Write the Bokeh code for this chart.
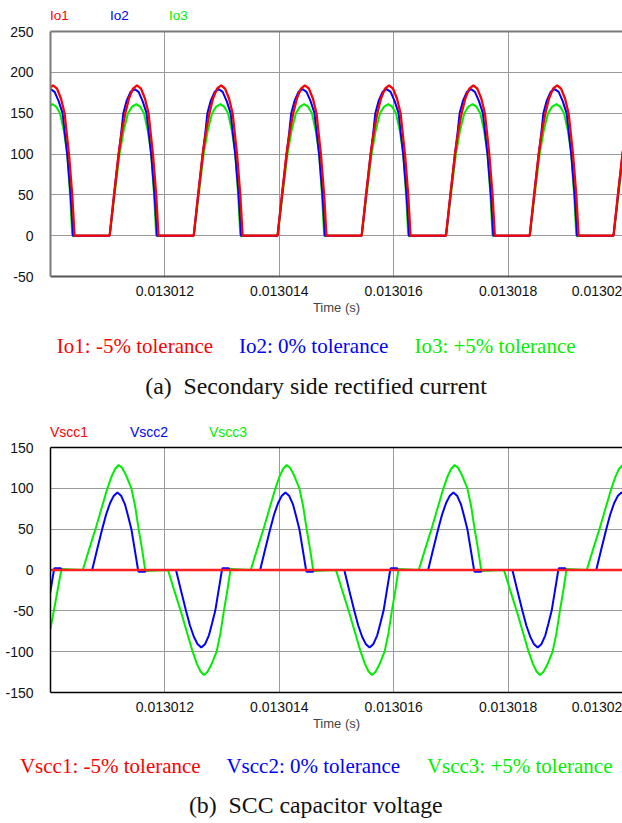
from bokeh.plotting import figure
from bokeh.models import ColumnDataSource, FixedTicker, Range1d, LinearAxis, Div
from bokeh.layouts import column
from bokeh.embed import file_html
from bokeh.resources import INLINE

# ---------------- data ----------------
T0 = 0.01301          # window start (s)
T1 = 0.01302          # window end (s)
US = 1e-6

x_tick_values = [0.013012, 0.013014, 0.013016, 0.013018]
x_tick_labels = ["0.013012", "0.013014", "0.013016", "0.013018"]
x_end_label = "0.01302"
x_end_label_at = 0.0130195545   # the last label is pulled inside the right edge, as in the original
x_axis_title = "Time (s)"

ya_ticks = [-50, 0, 50, 100, 150, 200, 250]
ya_tick_labels = ["-50", "0", "50", "100", "150", "200", "250"]
yb_ticks = [-150, -100, -50, 0, 50, 100, 150]
yb_tick_labels = ["-150", "-100", "-50", "0", "50", "100", "150"]

# (a) secondary side rectified current: pulse rise instants (us after T0) and pulse shapes
io_pulse_start_us = [-0.434, 1.034, 2.504, 3.970, 5.440, 6.914, 8.378, 9.843]
io1_dt_us = [0, .077, .157, .209, .274, .338, .408, .478, .548, .617, .680, .718, .757, .814, .854]
io1_val = [0, 50, 100, 125, 150, 168, 180, 184, 180, 168, 150, 125, 100, 50, 0]
io2_dt_us = [0, .077, .157, .201, .239, .296, .366, .436, .506, .575, .645, .685, .725, .785, .827]
io2_val = [0, 50, 100, 125, 150, 165, 176, 179.5, 176, 165, 150, 125, 100, 50, 0]
io3_dt_us = [0, .087, .174, .244, .321, .392, .466, .532, .600, .668, .727, .776, .814]
io3_val = [0, 50, 100, 128, 150, 158, 161, 158, 150, 128, 100, 50, 0]

# (b) SCC capacitor voltage
vscc1_t_us = [0.0, 10.0]
vscc1_val = [0, 0]
vscc2_bump_start_us = [-0.743, 0.728, 2.194, 3.665, 5.136, 6.602, 8.075, 9.541]
vscc2_bump_sign = [-1, 1, -1, 1, -1, 1, -1, 1]
vscc2_dt_us = [0, .087, .175, .244, .314, .375, .442, .506, .576, .628, .686, .745, .803, .812, .925, .934]
vscc2_val = [0, 25, 50, 68, 82, 90.5, 95, 91, 80, 66, 50, 25, 0, -2, -2, 0]
vscc3_lead_us = [0.0, 0.192]
vscc3_lead_val = [-72, 1.2]
vscc3_bump_start_us = [0.564, 2.054, 3.501, 4.991, 6.438, 7.928, 9.375]
vscc3_bump_sign = [1, -1, 1, -1, 1, -1, 1]
vscc3_dt_us = [0, .105, .222, .326, .431, .506, .567, .628, .689, .750, .850, .916, .977, 1.038, 1.094]
vscc3_val = [0, 24, 50, 75, 100, 115, 124, 128.5, 125, 117, 100, 78, 50, 25, -1.2]

io_names = ["Io1", "Io2", "Io3"]
io_captions = ["Io1: -5% tolerance", "Io2: 0% tolerance", "Io3: +5% tolerance"]
vscc_names = ["Vscc1", "Vscc2", "Vscc3"]
vscc_captions = ["Vscc1: -5% tolerance", "Vscc2: 0% tolerance", "Vscc3: +5% tolerance"]
caption_a = "(a)  Secondary side rectified current"
caption_b = "(b)  SCC capacitor voltage"

RED, BLUE, GREEN = "#ff0000", "#0000ff", "#00ee00"
TXT_COLORS = [RED, BLUE, "#00f000"]
SANS = "Liberation Sans"
SERIF = "Liberation Serif"
W = 622


def assemble(starts, signs, dt, val, lead_t=(), lead_v=()):
    t = [T0 + u * US for u in lead_t]
    v = list(lead_v)
    for s, sg in zip(starts, signs):
        for d, y in zip(dt, val):
            t.append(T0 + (s + d) * US)
            v.append(sg * y)
    return ColumnDataSource(dict(t=t, v=v))


def make_chart(height, top, bottom, left, yr, yticks, ylabels, frame_color, frame_width, bottom_color):
    p = figure(width=W, height=height, x_range=Range1d(T0, T1), y_range=Range1d(*yr),
               output_backend="svg", toolbar_location=None,
               min_border_left=left, min_border_right=0, min_border_top=top, min_border_bottom=bottom)
    p.outline_line_color = None
    p.background_fill_color = "white"
    p.border_fill_color = "white"
    p.xaxis.ticker = FixedTicker(ticks=x_tick_values + [x_end_label_at])
    p.xaxis.major_label_overrides = dict(zip(x_tick_values + [x_end_label_at], x_tick_labels + [x_end_label]))
    p.xgrid.ticker = FixedTicker(ticks=x_tick_values)
    p.yaxis.ticker = FixedTicker(ticks=yticks)
    p.yaxis.major_label_overrides = dict(zip(yticks, ylabels))
    for ax in (p.xaxis[0], p.yaxis[0]):
        ax.major_tick_out = 0
        ax.major_tick_in = 0
        ax.minor_tick_line_color = None
        ax.major_label_text_font = SANS
        ax.major_label_text_font_size = "14px"
        ax.major_label_text_color = "#111111"
    p.yaxis.major_label_standoff = 17
    p.xaxis.major_label_standoff = 9
    p.yaxis.axis_line_color = frame_color
    p.yaxis.axis_line_width = frame_width
    p.xaxis.axis_line_color = bottom_color
    p.xaxis.axis_line_width = frame_width
    p.xaxis.axis_label = x_axis_title
    p.xaxis.axis_label_text_font = SANS
    p.xaxis.axis_label_text_font_size = "13px"
    p.xaxis.axis_label_text_font_style = "normal"
    p.xaxis.axis_label_standoff = 1
    p.grid.grid_line_color = "#9a9a9a"
    p.grid.grid_line_width = 1
    top_ax = LinearAxis(ticker=FixedTicker(ticks=[]), major_tick_out=0, major_tick_in=0,
                        minor_tick_out=0, minor_tick_in=0, minor_tick_line_color=None,
                        major_label_text_font_size="0px", major_label_standoff=0,
                        axis_line_color=frame_color, axis_line_width=frame_width)
    p.add_layout(top_ax, "above")
    return p


ASC = {SANS: 0.8465, SERIF: 0.8375}   # baseline offset inside a 1em line box


def span(text, x, baseline, color, font, size, align):
    top = baseline - ASC[font] * size
    shift = "transform:translateX(-50%);" if align == "center" else ""
    return (f'<span style="position:absolute;left:{x}px;top:{top:.2f}px;{shift}'
            f"font-family:'{font}';font-size:{size}px;line-height:1;color:{color};"
            f'white-space:pre;">{text}</span>')


def strip(height, spans):
    html = (f'<div style="position:relative;width:{W}px;height:{height}px;overflow:visible;">'
            + "".join(spans) + "</div>")
    return Div(text=html, width=W, height=height, margin=(0, 0, 0, 0))


# ---- strip above (a): series names
s_top = strip(25, [span(t, x, 20, c, SANS, 13.5, "left")
                   for t, x, c in zip(io_names, [50, 110, 169], TXT_COLORS)])

# ---- chart (a)
pa = make_chart(295, 6, 44, 49, (-50, 250), ya_ticks, ya_tick_labels, "#7a7a7a", 2, "#555555")
src_io = [assemble(io_pulse_start_us, [1] * len(io_pulse_start_us), d, v)
          for d, v in ((io1_dt_us, io1_val), (io2_dt_us, io2_val), (io3_dt_us, io3_val))]
pa.line("t", "v", source=src_io[2], line_color=GREEN, line_width=2)
pa.line("t", "v", source=src_io[1], line_color=BLUE, line_width=2)
pa.line("t", "v", source=src_io[0], line_color=RED, line_width=2.3)

# ---- strip between: captions of (a), names of (b)
mid_spans = [span(t, x, 34, c, SERIF, 21, "center")
             for t, x, c in zip(io_captions, [135, 313.7, 495], TXT_COLORS)]
mid_spans.append(span(caption_a, 316, 75, "#111111", SERIF, 23.8, "center"))
mid_spans += [span(t, x, 116.7, c, SANS, 14, "left")
              for t, x, c in zip(vscc_names, [50, 130, 209], TXT_COLORS)]
s_mid = strip(121, mid_spans)

# ---- chart (b)
pb = make_chart(299, 6, 48, 50, (-150, 150), yb_ticks, yb_tick_labels, "#000000", 1.5, "#000000")
src_v1 = ColumnDataSource(dict(t=[T0 + u * US for u in vscc1_t_us], v=vscc1_val))
src_v2 = assemble(vscc2_bump_start_us, vscc2_bump_sign, vscc2_dt_us, vscc2_val)
src_v3 = assemble(vscc3_bump_start_us, vscc3_bump_sign, vscc3_dt_us, vscc3_val, vscc3_lead_us, vscc3_lead_val)
pb.line("t", "v", source=src_v3, line_color=GREEN, line_width=2)
pb.line("t", "v", source=src_v2, line_color=BLUE, line_width=2)
pb.line("t", "v", source=src_v1, line_color="#ff2020", line_width=2.5)

# ---- strip below (b): captions
bot_spans = [span(t, x, 34, c, SERIF, 21, "center")
             for t, x, c in zip(vscc_captions, [110.3, 313.3, 519.7], TXT_COLORS)]
bot_spans.append(span(caption_b, 315.8, 74, "#111111", SERIF, 23.8, "center"))
s_bot = strip(83, bot_spans)

layout = column(s_top, pa, s_mid, pb, s_bot, spacing=0)
open("out.html", "w").write(file_html(layout, INLINE))
